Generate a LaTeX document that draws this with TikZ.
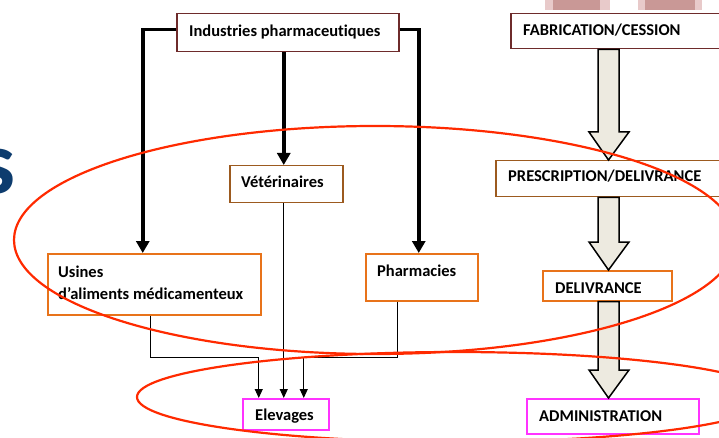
\documentclass[tikz,border=0pt]{standalone}
\usepackage{fontspec}
\setmainfont{Carlito}[Ligatures=NoCommon]
\usetikzlibrary{arrows.meta,calc}
\definecolor{redline}{HTML}{FF2A00}
\definecolor{maroonb}{HTML}{6E2B2B}
\definecolor{brownb}{HTML}{9C5A1F}
\definecolor{orangeb}{HTML}{E8731A}
\definecolor{magentab}{HTML}{FF33FF}
\definecolor{arrowfill}{HTML}{EDEAE0}
\definecolor{navys}{HTML}{0D3C6E}
\definecolor{pinklight}{HTML}{E8CACA}
\definecolor{pinkdark}{HTML}{C99896}
\newcommand\myblockarrow[2]{%
  \draw[blockarr] let \p1=(#1.south), \p2=(#2.north) in
    (598pt,\y1) -- (619pt,\y1) -- (619pt,\y2+28pt) -- (629pt,\y2+28pt) --
    (608.5pt,\y2) -- (589pt,\y2+28pt) -- (598pt,\y2+28pt) -- cycle;}
\begin{document}
\begin{tikzpicture}[x=1pt,y=-1pt,
  box/.style={draw, line width=1.5pt, fill=white, inner sep=0pt, anchor=north west},
  txt/.style={font=\bfseries\fontsize{16.5}{20}\selectfont, inner sep=0pt, anchor=base west},
  thickarr/.style={line width=3.5pt, -{Triangle[width=13pt,length=12pt]}},
  thinarr/.style={line width=1pt, -{Triangle[width=8pt,length=9pt]}},
  blockarr/.style={draw=black, line width=1.5pt, fill=arrowfill, line join=miter},
  redell/.style={draw=redline, line width=2.2pt}]
\clip (0,0) rectangle (719,438);
\fill[white] (0,0) rectangle (719,438);
% faint background blocks at the top
\fill[pinklight] (545,0) rectangle (610,10);
\fill[pinkdark] (553,0) rectangle (600,10);
\fill[pinklight] (638,0) rectangle (702,10);
\fill[pinkdark] (645,0) rectangle (695,10);
% large cut-off letter
\node[font=\bfseries\fontsize{90}{90}\selectfont, text=navys, inner sep=0pt, anchor=base east] (bigs) at (16,194) {s};
% boxes
\node[box, draw=maroonb, minimum width=222pt, minimum height=38pt] (ind) at (176,13) {};
\node[txt] (indt) at (189,36.5) {Industries pharmaceutiques};
\node[box, draw=maroonb, minimum width=240pt, minimum height=35pt] (fab) at (510,13) {};
\node[txt] (fabt) at (523,36) {FABRICATION/CESSION};
\node[box, draw=brownb, minimum width=113pt, minimum height=37pt] (vet) at (229,165) {};
\node[txt] (vett) at (241,188) {Vétérinaires};
\node[box, draw=brownb, minimum width=260pt, minimum height=36pt] (presc) at (495,160) {};
\node[txt] (presct) at (508,182) {PRESCRIPTION/DELIVRANCE};
\node[box, draw=orangeb, minimum width=213pt, minimum height=61pt] (usines) at (47,253) {};
\node[txt] (usinest1) at (58,277) {Usines};
\node[txt] (usinest2) at (58,299) {d’aliments médicamenteux};
\node[box, draw=orangeb, minimum width=112pt, minimum height=47pt] (pharm) at (365,253) {};
\node[txt] (pharmt) at (377,276) {Pharmacies};
\node[box, draw=orangeb, minimum width=129pt, minimum height=30pt] (deliv) at (542,270) {};
\node[txt] (delivt) at (555,293) {DELIVRANCE};
\node[box, draw=magentab, minimum width=86pt, minimum height=31pt] (elev) at (242,398) {};
\node[txt] (elevt) at (255,420) {Elevages};
\node[box, draw=magentab, minimum width=172pt, minimum height=35pt] (admin) at (526,398) {};
\node[txt] (admint) at (539,421) {ADMINISTRATION};
% thick connectors
\draw[thickarr] ([yshift=3pt]ind.west) -| ([xshift=-11.5pt]usines.north);
\draw[thickarr] ([xshift=-2.5pt]vet.north |- ind.south) -- ([xshift=-2.5pt]vet.north);
\draw[thickarr] ([yshift=3pt]ind.east) -| ([xshift=-3pt]pharm.north);
% thin connectors
\coordinate (e1) at ([xshift=-27pt]elev.north);
\coordinate (e2) at ([xshift=-2pt]elev.north);
\coordinate (e3) at ([xshift=18pt]elev.north);
\draw[thinarr] ([xshift=-3.5pt]usines.south) -- ++(0,42) -| (e1);
\draw[thinarr] (e2 |- vet.south) -- (e2);
\draw[thinarr] ([xshift=-24pt]pharm.south) -- ++(0,56) -| (e3);
% block arrows
\myblockarrow{fab}{presc}
\myblockarrow{presc}{deliv}
\myblockarrow{deliv}{admin}
% red ellipses
\draw[redell] (375,240) ellipse [x radius=361, y radius=114];
\draw[redell] (455,397) ellipse [x radius=318, y radius=45];
\end{tikzpicture}
\end{document}
